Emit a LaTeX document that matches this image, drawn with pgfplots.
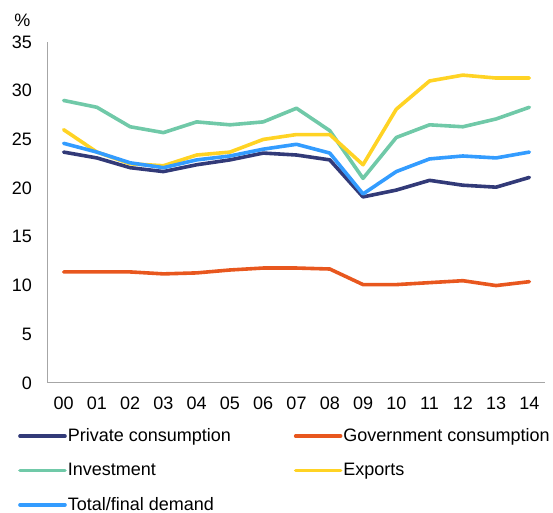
\documentclass[border=0pt]{standalone}
\usepackage{fontspec}
\setmainfont{Liberation Sans}
\usepackage{pgfplots}
\pgfplotsset{compat=1.18}
\definecolor{cNavy}{HTML}{323A78}
\definecolor{cOrange}{HTML}{E8571E}
\definecolor{cGreen}{HTML}{70C9A8}
\definecolor{cYellow}{HTML}{FFD324}
\definecolor{cBlue}{HTML}{339CFF}
\definecolor{cAxis}{HTML}{A6A6A6}
\begin{document}
\fontsize{18bp}{21bp}\selectfont
\begin{tikzpicture}
\path (-48bp,-125bp) rectangle (505bp,383bp);
\begin{axis}[
  at={(0,0)}, anchor=south west,
  scale only axis, width=497bp, height=341bp,
  xmin=-0.47, xmax=14.47, ymin=0, ymax=35,
  axis x line*=bottom, axis y line*=left,
  axis line style={-, draw=cAxis, line width=1bp},
  major tick length=0pt, tick style={draw=none},
  xtick={0,...,14},
  xticklabels={00,01,02,03,04,05,06,07,08,09,10,11,12,13,14},
  ytick={0,5,...,35},
  /pgf/number format/assume math mode=true,
  tick label style={font=\fontsize{18bp}{21bp}\selectfont},
  yticklabel style={anchor=east, inner xsep=0pt, xshift=-16bp},
  xticklabel style={anchor=north, inner ysep=0pt, yshift=-14bp},
  every axis plot/.append style={line width=3.6bp, line join=round, line cap=round},
  legend columns=2,
  legend cell align=left,
  legend image code/.code={\draw[#1] (2bp,0bp) -- (47bp,0bp);},
  legend style={at={(axis description cs:-0.0604,-0.132)}, anchor=north west,
    draw=none, fill=none, inner sep=0pt, row sep=19bp,
    font=\fontsize{18bp}{21bp}\selectfont,
    nodes={inner xsep=1bp, inner ysep=0pt},
    /tikz/every even column/.append style={column sep=62bp}},
]
\addplot[cNavy] coordinates {(0,23.7)(1,23.1)(2,22.1)(3,21.7)(4,22.4)(5,22.9)(6,23.6)(7,23.4)(8,22.9)(9,19.1)(10,19.8)(11,20.8)(12,20.3)(13,20.1)(14,21.1)};
\addlegendentry{Private consumption}
\addplot[cOrange] coordinates {(0,11.4)(1,11.4)(2,11.4)(3,11.2)(4,11.3)(5,11.6)(6,11.8)(7,11.8)(8,11.7)(9,10.1)(10,10.1)(11,10.3)(12,10.5)(13,10.0)(14,10.4)};
\addlegendentry{Government consumption}
\addplot[cGreen] coordinates {(0,29.0)(1,28.3)(2,26.3)(3,25.7)(4,26.8)(5,26.5)(6,26.8)(7,28.2)(8,25.9)(9,21.0)(10,25.2)(11,26.5)(12,26.3)(13,27.1)(14,28.3)};
\addlegendentry{Investment}
\addplot[cYellow] coordinates {(0,26.0)(1,23.7)(2,22.5)(3,22.3)(4,23.4)(5,23.7)(6,25.0)(7,25.5)(8,25.5)(9,22.4)(10,28.1)(11,31.0)(12,31.6)(13,31.3)(14,31.3)};
\addlegendentry{Exports}
\addplot[cBlue] coordinates {(0,24.6)(1,23.7)(2,22.6)(3,22.1)(4,22.9)(5,23.3)(6,24.0)(7,24.5)(8,23.6)(9,19.4)(10,21.7)(11,23.0)(12,23.3)(13,23.1)(14,23.7)};
\addlegendentry{Total/final demand}
\end{axis}
\node at (-25.5bp,362.5bp) {\%};
\end{tikzpicture}
\end{document}
